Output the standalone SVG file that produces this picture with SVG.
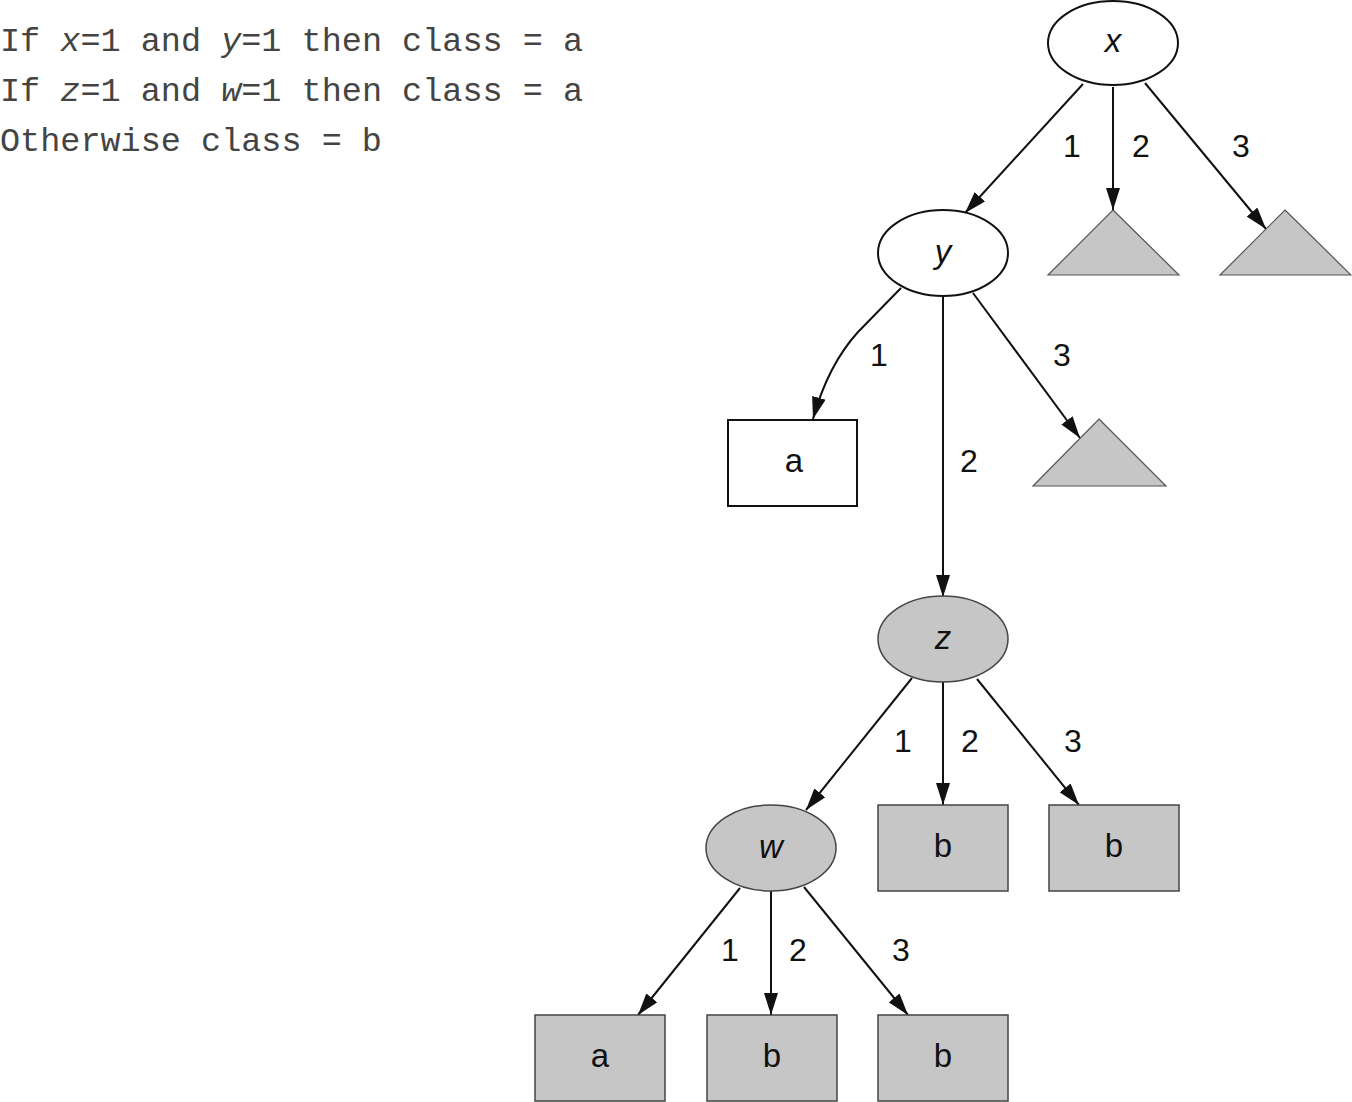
<svg xmlns="http://www.w3.org/2000/svg" width="1352" height="1102" viewBox="0 0 1352 1102">
<style>
.rule{font-family:"Liberation Mono","Courier New",monospace;font-size:33.5px;fill:#444}
.lbl{font-family:"Liberation Sans",Arial,sans-serif;font-size:32px;fill:#111;text-anchor:middle}
.nt{font-family:"Liberation Sans",Arial,sans-serif;font-size:33px;fill:#111;text-anchor:middle}
.it{font-style:italic}
.wht{fill:#fff;stroke:#111;stroke-width:2}
.gry{fill:#c6c6c6;stroke:#444;stroke-width:1.5}
.tri{fill:#c6c6c6;stroke:#555;stroke-width:1.2}
.edge{fill:none;stroke:#111;stroke-width:2;marker-end:url(#arr)}
</style>
<defs>
<marker id="arr" markerUnits="userSpaceOnUse" markerWidth="22" markerHeight="14" refX="22" refY="7" orient="auto" viewBox="0 0 22 14">
<path d="M0,0 L22,7 L0,14 Z" fill="#111"/>
</marker>
</defs>
<rect width="1352" height="1102" fill="#fff"/>
<g id="rules">
<text class="rule" x="0" y="51">If <tspan class="it">x</tspan>=1 and <tspan class="it">y</tspan>=1 then class = a</text>
<text class="rule" x="0" y="101">If <tspan class="it">z</tspan>=1 and <tspan class="it">w</tspan>=1 then class = a</text>
<text class="rule" x="0" y="151">Otherwise class = b</text>
</g>
<g id="connectors">
<path class="edge" d="M1083,84 L965,213"/>
<path class="edge" d="M1113,87 L1113,210"/>
<path class="edge" d="M1145,83 L1266,229"/>
<path class="edge" d="M901,288 L858,332 Q828,365 813,419"/>
<path class="edge" d="M943,297 L943,597"/>
<path class="edge" d="M973,293 L1080,438"/>
<path class="edge" d="M912,678 L806,810"/>
<path class="edge" d="M943,682 L943,805"/>
<path class="edge" d="M977,679 L1079,805"/>
<path class="edge" d="M740,888 L638,1015"/>
<path class="edge" d="M771,890 L771,1015"/>
<path class="edge" d="M804,887 L908,1015"/>
<text class="lbl" x="1072" y="157">1</text>
<text class="lbl" x="1141" y="157">2</text>
<text class="lbl" x="1241" y="157">3</text>
<text class="lbl" x="879" y="366">1</text>
<text class="lbl" x="969" y="472">2</text>
<text class="lbl" x="1062" y="366">3</text>
<text class="lbl" x="903" y="752">1</text>
<text class="lbl" x="970" y="752">2</text>
<text class="lbl" x="1073" y="752">3</text>
<text class="lbl" x="730" y="961">1</text>
<text class="lbl" x="798" y="961">2</text>
<text class="lbl" x="901" y="961">3</text>
</g>
<g id="node-x"><ellipse class="wht" cx="1113" cy="43" rx="65" ry="42"/><text class="nt it" x="1113" y="52">x</text></g>
<g id="node-tri-x2"><polygon class="tri" points="1113,210 1179,275 1048,275"/></g>
<g id="node-tri-x3"><polygon class="tri" points="1285,210 1351,275 1220,275"/></g>
<g id="node-y"><ellipse class="wht" cx="943" cy="253" rx="65" ry="43"/><text class="nt it" x="943" y="263">y</text></g>
<g id="node-a1"><rect class="wht" x="728" y="420" width="129" height="86"/><text class="nt" x="794" y="472">a</text></g>
<g id="node-tri-y3"><polygon class="tri" points="1099,419 1166,486 1033,486"/></g>
<g id="node-z"><ellipse class="gry" cx="943" cy="639" rx="65" ry="43"/><text class="nt it" x="943" y="649">z</text></g>
<g id="node-w"><ellipse class="gry" cx="771" cy="848" rx="65" ry="43"/><text class="nt it" x="771" y="858">w</text></g>
<g id="node-b-z2"><rect class="gry" x="878" y="805" width="130" height="86"/><text class="nt" x="943" y="857">b</text></g>
<g id="node-b-z3"><rect class="gry" x="1049" y="805" width="130" height="86"/><text class="nt" x="1114" y="857">b</text></g>
<g id="node-a-w1"><rect class="gry" x="535" y="1015" width="130" height="86"/><text class="nt" x="600" y="1067">a</text></g>
<g id="node-b-w2"><rect class="gry" x="707" y="1015" width="130" height="86"/><text class="nt" x="772" y="1067">b</text></g>
<g id="node-b-w3"><rect class="gry" x="878" y="1015" width="130" height="86"/><text class="nt" x="943" y="1067">b</text></g>
</svg>
